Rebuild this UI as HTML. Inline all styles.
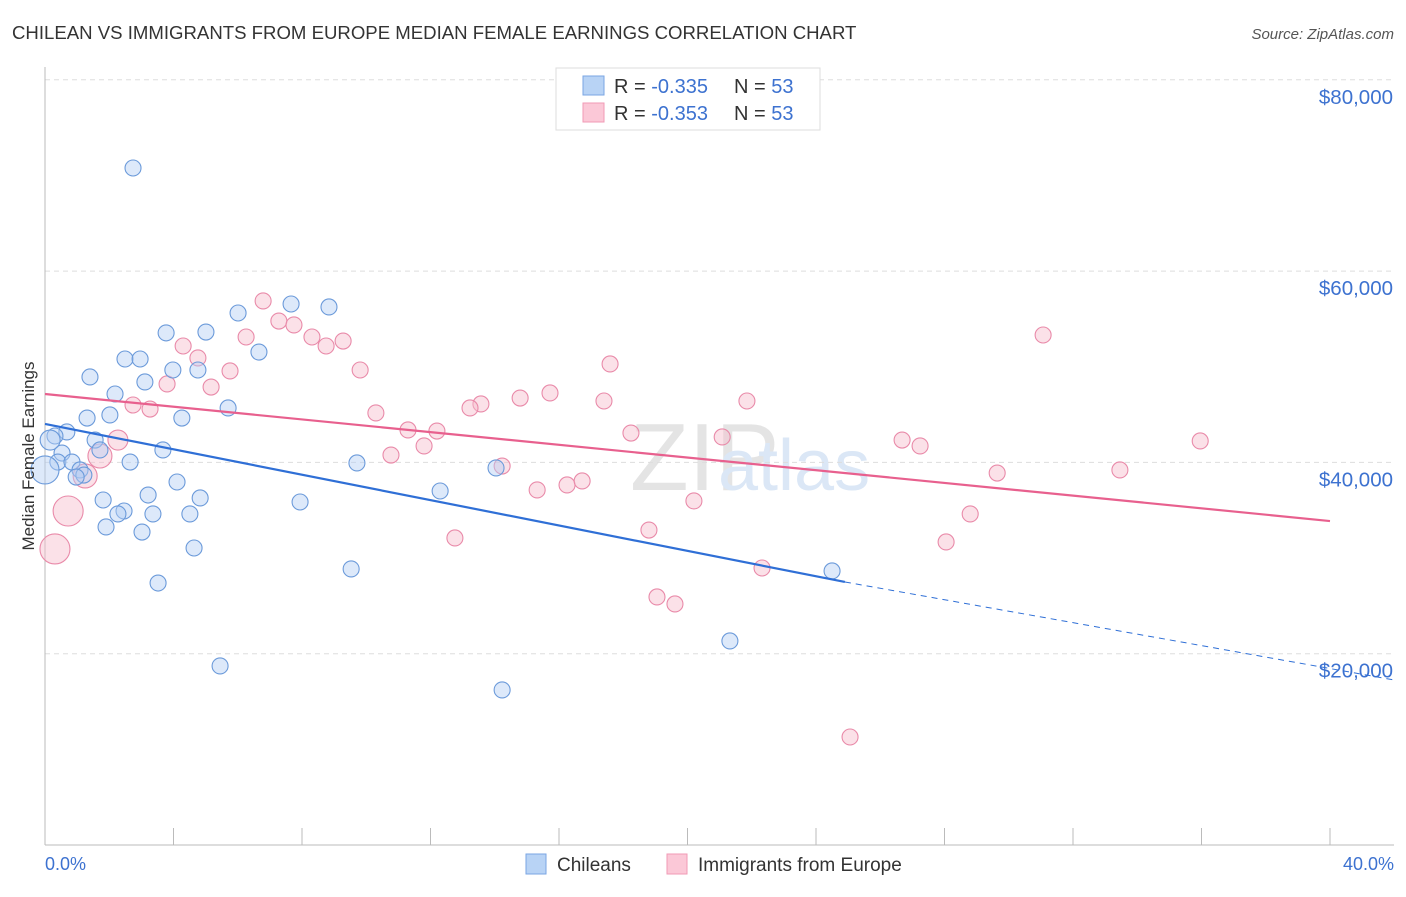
<!DOCTYPE html>
<html><head><meta charset="utf-8"><style>
body{margin:0;background:#fff;font-family:"Liberation Sans",sans-serif;}
svg text{font-family:"Liberation Sans",sans-serif;}
</style></head><body>
<svg id="chart" width="1406" height="892">
<text x="12" y="39" font-size="18.6" fill="#333">CHILEAN VS IMMIGRANTS FROM EUROPE MEDIAN FEMALE EARNINGS CORRELATION CHART</text>
<text x="1394" y="39" font-size="15" fill="#555" font-style="italic" text-anchor="end">Source: ZipAtlas.com</text>
<text x="630" y="490" font-size="96" fill="#e4e4e4" font-family="Liberation Serif">ZIP</text>
<text x="718" y="490" font-size="72" fill="#dbe7f6">atlas</text>
<g id="grid"></g><g id="axes"></g><g id="marks"></g>
<text transform="translate(34,456) rotate(-90)" font-size="17" fill="#333" text-anchor="middle">Median Female Earnings</text>
<text x="45" y="870" font-size="18" fill="#3d72d0">0.0%</text>
<text x="1394" y="870" font-size="18" fill="#3d72d0" text-anchor="end">40.0%</text>
<g>
<rect x="556" y="68" width="264" height="62" fill="#fff" stroke="#ddd"/>
<rect x="583" y="76" width="21" height="19" fill="#b8d3f5" stroke="#7aa6e3"/>
<rect x="583" y="103" width="21" height="19" fill="#fbc8d7" stroke="#f09ab5"/>
<text x="614" y="93" font-size="20" fill="#333">R = <tspan fill="#3d72d0">-0.335</tspan><tspan x="734">N = </tspan><tspan fill="#3d72d0">53</tspan></text>
<text x="614" y="120" font-size="20" fill="#333">R = <tspan fill="#3d72d0">-0.353</tspan><tspan x="734">N = </tspan><tspan fill="#3d72d0">53</tspan></text>
</g>
<g>
<rect x="526" y="854" width="20" height="20" fill="#b8d3f5" stroke="#7aa6e3"/>
<text x="557" y="871" font-size="19" fill="#333">Chileans</text>
<rect x="667" y="854" width="20" height="20" fill="#fbc8d7" stroke="#f09ab5"/>
<text x="698" y="871" font-size="19" fill="#333">Immigrants from Europe</text>
</g>
</svg>
<script>
const yTicks=[20000,40000,60000,80000];
const yTickLabels=["$20,000","$40,000","$60,000","$80,000"];
const xTicks=[0,4,8,12,16,20,24,28,32,36,40];
const blueX=[2.74,3.77,5.01,6.01,7.66,8.84,6.66,2.49,2.96,3.98,4.76,1.40,3.11,2.18,5.70,2.02,1.31,4.26,0.68,0.31,1.56,3.67,0.53,1.71,0.40,0.84,2.65,9.71,1.09,1.21,0.97,4.11,12.30,14.04,3.21,1.81,4.83,7.94,2.46,2.27,3.36,4.51,1.90,3.02,4.64,9.53,24.50,3.52,21.32,5.45,14.23,0.0,0.16];
const blueY=[70780,53540,53630,55620,56560,56250,51540,50810,50810,49660,49660,48930,48410,47150,45690,44960,44640,44640,43180,42760,42340,41300,40980,41300,40040,40040,40040,39940,39210,38680,38470,37950,37010,39420,36590,36070,36280,35860,34920,34610,34610,34610,33250,32720,31050,28860,28650,27390,21330,18720,16210,39210,42340];
const blueR=[8,8,8,8,8,8,8,8,8,8,8,8,8,8,8,8,8,8,8,8,8,8,8,8,8,8,8,8,8,8,8,8,8,8,8,8,8,8,8,8,8,8,8,8,8,8,8,8,8,8,8,14,10];
const pinkX=[6.79,7.28,7.75,6.26,8.31,9.28,8.75,4.30,4.76,5.76,9.81,3.80,5.17,17.59,31.07,15.72,14.79,17.40,21.85,13.57,13.23,2.74,3.27,10.30,11.30,12.20,18.24,21.08,2.27,26.68,27.24,35.96,11.80,10.77,1.71,1.25,14.23,33.46,29.64,15.32,16.25,16.72,20.20,0.72,28.80,18.80,12.76,28.05,0.31,22.32,19.05,19.61,25.06];
const pinkY=[56880,54780,54370,53110,53110,52690,52170,52170,50920,49560,49660,48200,47880,50290,53320,47260,46730,46420,46420,46110,45690,46000,45580,45170,43390,43280,43070,42660,42340,42340,41720,42240,41720,40770,40670,38580,39620,39210,38890,37120,37640,38060,35970,34920,34610,32930,32100,31680,30950,28960,25930,25200,11290];
const pinkR=[8,8,8,8,8,8,8,8,8,8,8,8,8,8,8,8,8,8,8,8,8,8,8,8,8,8,8,8,10,8,8,8,8,8,12,12,8,8,8,8,8,8,8,15,8,8,8,8,15,8,8,8,8];
const blueTrend=[44020,27500,17250];
const blueTrendX=[0,24.9,42];
const pinkTrend=[47150,33870];
const pinkTrendX=[0,40];
const X=v=>45+v/40*1285, Y=v=>845-v/20000*191.3;
const NS="http://www.w3.org/2000/svg";
function mk(t,a,p){const e=document.createElementNS(NS,t);for(const k in a)e.setAttribute(k,a[k]);p.appendChild(e);return e;}
const grid=document.getElementById('grid'),axes=document.getElementById('axes'),marks=document.getElementById('marks');
yTicks.forEach((t,i)=>{
 const l=mk('line',{x1:45,x2:1394,y1:Y(t),y2:Y(t),stroke:'#ddd','stroke-dasharray':'5,4'},grid);
 
 
 const tx=mk('text',{x:1393,y:Y(t)+24,'font-size':20.5,fill:'#3d72d0','text-anchor':'end'},axes);
 tx.textContent=yTickLabels[i];
 
 
});
const ax=mk('line',{x1:45,x2:1394,y1:845,y2:845,stroke:'#bbb'},axes);


const ay=mk('line',{x1:45,x2:45,y1:67,y2:845,stroke:'#bbb'},axes);


xTicks.forEach(t=>{
 const l=mk('line',{x1:X(t),x2:X(t),y1:828,y2:845,stroke:'#bbb'},axes);
 
 
});
function pts(xs,ys,rs,fill,stroke,name){
 xs.forEach((x,i)=>{
  const c=mk('circle',{cx:X(x),cy:Y(ys[i]),r:rs[i],fill:fill,'fill-opacity':0.45,stroke:stroke,'stroke-width':1.1},marks);
  
  
 });
}
pts(pinkX,pinkY,pinkR,'#f7bccd','#e98aa9','point-europe');
pts(blueX,blueY,blueR,'#b3cef3','#6b9ada','point-chilean');
const b1=mk('line',{x1:X(blueTrendX[0]),y1:Y(blueTrend[0]),x2:X(blueTrendX[1]),y2:Y(blueTrend[1]),stroke:'#2f6fd6','stroke-width':2.2},marks);


const b2=mk('line',{x1:X(blueTrendX[1]),y1:Y(blueTrend[1]),x2:X(blueTrendX[2]),y2:Y(blueTrend[2]),stroke:'#2f6fd6','stroke-width':1,'stroke-dasharray':'6,5'},marks);


const p1=mk('line',{x1:X(pinkTrendX[0]),y1:Y(pinkTrend[0]),x2:X(pinkTrendX[1]),y2:Y(pinkTrend[1]),stroke:'#e8608e','stroke-width':2.2},marks);


</script>
</body></html>
